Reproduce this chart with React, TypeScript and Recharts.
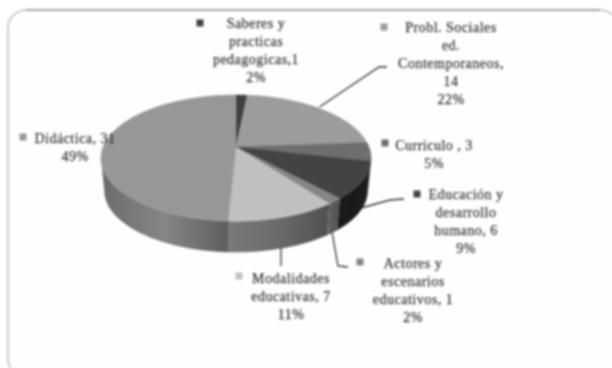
import React from 'react';
import { PieChart, Pie } from 'recharts';

const categories = [
  'Saberes y practicas pedagogicas',
  'Probl. Sociales ed. Contemporaneos',
  'Curriculo',
  'Educación y desarrollo humano',
  'Actores y escenarios educativos',
  'Modalidades educativas',
  'Didáctica',
];
const counts = [1, 14, 3, 6, 1, 7, 31];
const percents = ['2%', '22%', '5%', '9%', '2%', '11%', '49%'];

// label text broken the way the original wraps it
const labelLines = [
  ['Saberes y', 'practicas', 'pedagogicas,1', percents[0]],
  ['Probl. Sociales', 'ed.', 'Contemporaneos,', '14', percents[1]],
  ['Curriculo , 3', percents[2]],
  ['Educación y', 'desarrollo', 'humano, 6', percents[3]],
  ['Actores y', 'escenarios', 'educativos, 1', percents[4]],
  ['Modalidades', 'educativas, 7', percents[5]],
  ['Didáctica, 31', percents[6]],
];

const topColors = ['#404040', '#9c9c9c', '#6e6e6e', '#434343', '#858585', '#c0c0c0', '#979797'];
const wallColors = [
  ['#222222', '#222222', '#222222'],
  ['#5a5a5a', '#5a5a5a', '#5a5a5a'],
  ['#2e2e2e', '#2e2e2e', '#2e2e2e'],
  ['#1c1c1c', '#191919', '#222222'],
  ['#666666', '#5a5a5a', '#505050'],
  ['#7a7a7a', '#6a6a6a', '#505050'],
  ['#6c6c6c', '#868686', '#5e5e5e'],
];

// label placement, same order as categories
const textX = [256, 451, 434, 466, 413, 291, 75];
const textY = [24, 28, 146, 195, 264, 279, 139];
const squareX = [200, 384, 385, 417, 360, 239, 23];
const squareY = [23, 27, 143, 194, 262, 276, 137];
const lineGap = 18;

const leaders = [
  '319.5,107 379,67 387,67',
  '361,208 390,200 404,199',
  '332,232 338,266 348,267',
  '281,248 281,266',
];

const pieData = categories.map((name, i) => ({ name, value: counts[i], fill: topColors[i] }));

// the pie is seen in perspective: a circle point goes through a small homography
const TILT = 0.46;
const PERSPECTIVE = 0.175;
const DEPTH = 33;
const BASE_SHRINK = 0.975;
const RAD = Math.PI / 180;

const project = (cx: number, cy: number, r: number, angle: number, base = false) => {
  const u = Math.cos(angle * RAD);
  const v = -Math.sin(angle * RAD);
  const w = 1 - PERSPECTIVE * v;
  const s = base ? BASE_SHRINK : 1;
  return [cx + (s * r * u) / w, cy + (base ? DEPTH : 0) + (s * r * TILT * v) / w];
};

const arcPoints = (cx: number, cy: number, r: number, a1: number, a2: number, base = false) => {
  const n = Math.max(2, Math.ceil(Math.abs(a2 - a1) / 2));
  const pts: number[][] = [];
  for (let i = 0; i <= n; i++) {
    pts.push(project(cx, cy, r, a1 + ((a2 - a1) * i) / n, base));
  }
  return pts;
};

const toPath = (pts: number[][]) =>
  pts.map((p, i) => `${i === 0 ? 'M' : 'L'}${p[0].toFixed(2)},${p[1].toFixed(2)}`).join(' ') + ' Z';

const TopSlice = (props: any) => {
  const { cx, cy, outerRadius, startAngle, endAngle, fill } = props;
  const pts = [[cx, cy], ...arcPoints(cx, cy, outerRadius, startAngle, endAngle)];
  return <path d={toPath(pts)} fill={fill} stroke={fill} strokeWidth={0.4} />;
};

// only the front part of the rim shows, between the two silhouette tangents
const WALL_FROM = -10;
const WALL_TO = -170;

const WallSlice = (props: any) => {
  const { cx, cy, outerRadius, startAngle, endAngle, name } = props;
  const i = categories.indexOf(name);
  const a1 = Math.min(startAngle, WALL_FROM);
  const a2 = Math.max(endAngle, WALL_TO);
  if (a1 <= a2) return <g />;
  const pts = [
    ...arcPoints(cx, cy, outerRadius, a1, a2),
    ...arcPoints(cx, cy, outerRadius, a2, a1, true),
  ];
  return <path d={toPath(pts)} fill={`url(#wall-${i})`} />;
};

const renderLabel = (props: any) => {
  const i = props.index;
  return (
    <g>
      <rect x={squareX[i] - 3.5} y={squareY[i] - 3.5} width={7} height={7} fill={topColors[i]} />
      <text
        x={textX[i]}
        textAnchor="middle"
        fontFamily="Liberation Serif"
        fontSize={14}
        letterSpacing={0.5}
        fill="#3a3a3a"
        stroke="#3a3a3a"
        strokeWidth={0.25}
      >
        {labelLines[i].map((line, k) => (
          <tspan key={k} x={textX[i]} y={textY[i] + 4 + k * lineGap}>
            {line}
          </tspan>
        ))}
      </text>
    </g>
  );
};

export default function App() {
  return (
    <div
      style={{
        position: 'fixed',
        left: 0,
        top: 0,
        width: 612,
        height: 368,
        overflow: 'hidden',
        background: '#fff',
        filter: 'blur(0.8px)',
      }}
    >
      <PieChart width={612} height={368} margin={{ top: 0, right: 0, bottom: 0, left: 0 }}>
        <defs>
          {wallColors.map((c, i) => (
            <linearGradient key={i} id={`wall-${i}`} x1="0" y1="0" x2="1" y2="0">
              <stop offset="0%" stopColor={c[0]} />
              <stop offset="50%" stopColor={c[1]} />
              <stop offset="100%" stopColor={c[2]} />
            </linearGradient>
          ))}
        </defs>
        {/* frame runs off the right and bottom of the picture */}
        <rect x={8} y={10} width={610} height={367} rx={18} fill="#fefefe" stroke="#cccccc" strokeWidth={2} />
        <path d="M26,10 H600" fill="none" stroke="#999999" strokeWidth={1.6} />
        <Pie
          data={pieData}
          dataKey="value"
          cx={236}
          cy={147}
          outerRadius={133}
          startAngle={90}
          endAngle={-270}
          stroke="none"
          shape={WallSlice}
          isAnimationActive={false}
        />
        <Pie
          data={pieData}
          dataKey="value"
          cx={236}
          cy={147}
          outerRadius={133}
          startAngle={90}
          endAngle={-270}
          stroke="none"
          shape={TopSlice}
          label={renderLabel}
          labelLine={false}
          isAnimationActive={false}
        />
        {leaders.map((pts, i) => (
          <polyline key={i} points={pts} fill="none" stroke="#333" strokeWidth={1.3} />
        ))}
      </PieChart>
    </div>
  );
}
